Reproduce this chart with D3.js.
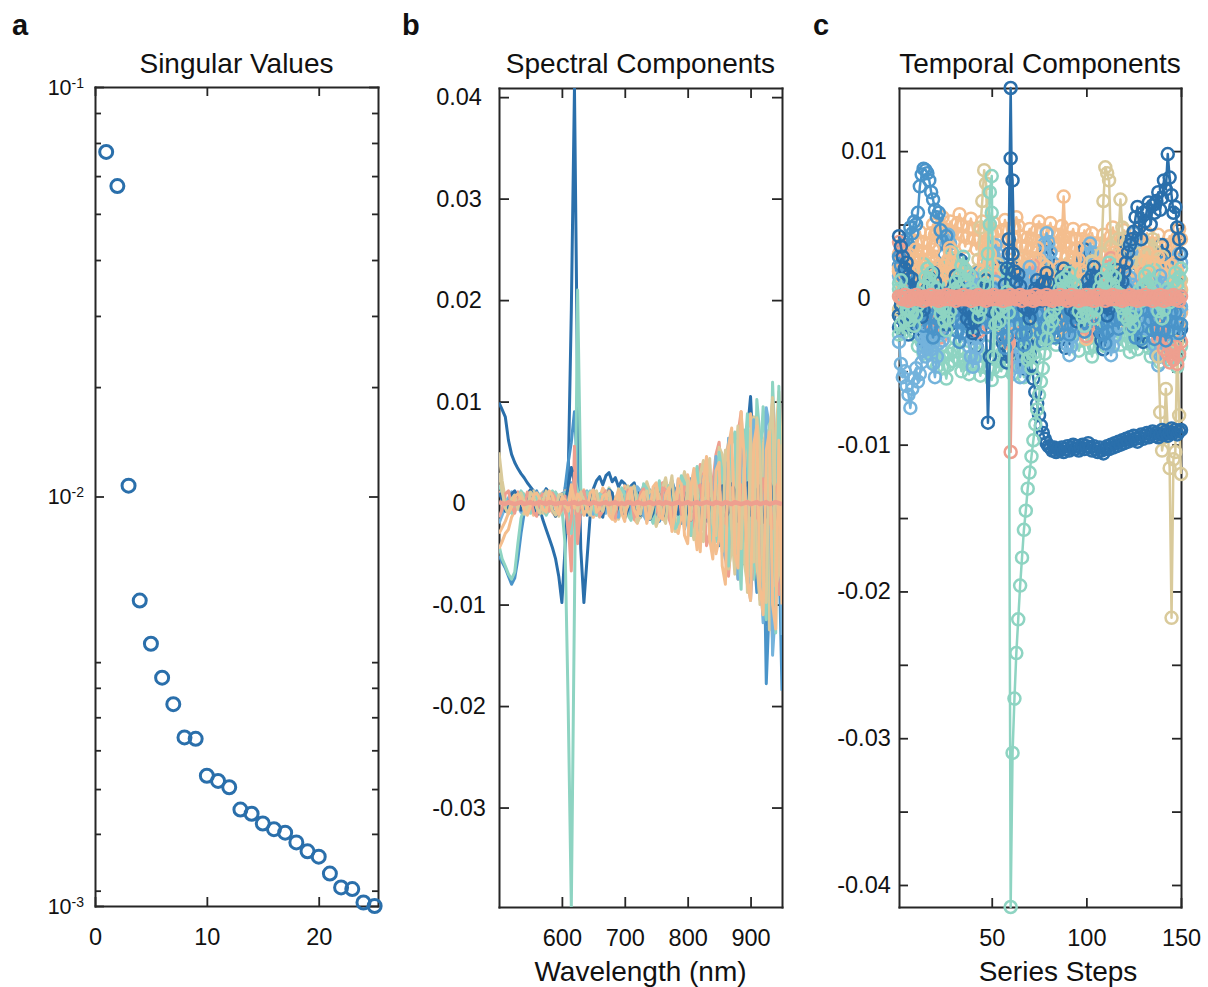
<!DOCTYPE html>
<html>
<head>
<meta charset="utf-8">
<script src="https://cdn.jsdelivr.net/npm/d3@7"></script>
<style>
  body { margin: 0; background: #fff; }
</style>
</head>
<body>
<script>
// ---------- panel a: singular values ----------
const compIndex = [1,2,3,4,5,6,7,8,9,10,11,12,13,14,15,16,17,18,19,20,21,22,23,24,25];
const singularValues = [0.0694, 0.0573, 0.01063, 0.00557, 0.00437, 0.00361, 0.00311, 0.00258, 0.00256,
  0.00208, 0.00202, 0.00195, 0.00172, 0.00168, 0.00159, 0.00154, 0.00151, 0.00143, 0.00136, 0.00132,
  0.00120, 0.00111, 0.00110, 0.00102, 0.00100];
const svXTicks = [0, 10, 20];
const svYMajor = [0.001, 0.01, 0.1];
const svYMinor = [0.0864, 0.0730, 0.0606, 0.0490, 0.0378, 0.0276, 0.0185,
  0.00394, 0.00341, 0.00289, 0.00240, 0.00193, 0.00150, 0.00109];

// ---------- panel b: spectral components (values in units of 1e-4) ----------
const wavelengths = [500,505,510,515,520,525,530,535,540,545,
  550,555,560,565,570,575,580,585,590,595,
  600,605,610,615,620,625,630,635,640,645,
  650,655,660,665,670,675,680,685,690,695,
  700,705,710,715,720,725,730,735,740,745,
  750,755,760,765,770,775,780,785,790,795,
  800,805,810,815,820,825,830,835,840,845,
  850,855,860,865,870,875,880,885,890,895,
  900,905,910,915,920,925,930,935,940,945,
  950];
const specA = [99, 92, 85, 62, 48, 40, 34, 29, 25, 20,
  16, 12, 4, -6, -17, -26, -35, -44, -55, -72,
  -98, -45, 25, 190, 409, 110, -45, -98, -55, -12,
  14, 22, 26, 18, 27, 30, 21, 25, 16, 22,
  19, 12, 17, 20, 8, 12, 4, 9, -3, 6,
  10, 3, -8, -2, 5, 10, 14, 4, -12, -5,
  -4, 14, 6, -10, 20, 12, -18, 25, 8, -22,
  -30, 30, 38, -15, -40, 22, 50, -28, -60, 70,
  105, 40, -70, -30, 60, -120, -40, 30, -90, 20,
  -60];
const specB = [-52, -58, -64, -72, -80, -74, -55, -30, -10, 2,
  8, 5, 12, 3, -4, -9, -2, 6, 10, 4,
  -3, 15, 40, 60, 90, 30, -12, -6, 3, 11,
  7, -2, -10, -6, 4, 12, 9, -3, -12, -8,
  1, 10, 16, 8, -5, -14, -9, 3, 13, 6,
  -7, -18, -11, 4, 15, 22, 12, -6, -20, -9,
  8, 24, 14, -10, -28, -16, 12, 30, 18, -22,
  -42, -25, 10, 36, 20, -30, -58, -40, 15, 52,
  30, -45, -88, -60, 20, -178, -95, 25, 60, -40,
  -185];
const specC = [-42, -55, -62, -70, -75, -68, -40, -15, -5, 4,
  9, 3, -5, -11, -6, 2, 8, 12, 5, -3,
  -5, -40, -200, -398, -100, 210, 15, -4, 7, 12,
  5, -6, -13, -4, 8, 14, 6, -5, -2, 10,
  16, 7, -8, -15, -6, 9, 17, 11, -4, -12,
  -19, -8, 10, 20, 13, -5, -17, -24, -9, 12,
  26, 15, -12, -30, -18, 9, 34, 22, -15, -38,
  -20, 18, 48, 30, -25, -55, -32, 40, 72, 38,
  -30, -75, -50, 35, 95, 50, -60, 119, 40, -90,
  75];
const specD = [-45, -38, -30, -26, -14, -8, -2, 5, 9, 3,
  -6, -12, -4, 7, 11, 4, -3, -9, -13, -5,
  6, 12, 5, -4, -10, -3, 8, 13, 6, -7,
  -14, -8, 5, 15, 10, -2, -13, -18, -7, 9,
  17, 12, -4, -16, -20, -8, 11, 19, 9, -10,
  -22, -15, 6, 21, 14, -8, -25, -30, -12, 15,
  28, 12, -20, -46, -30, 5, 32, 20, -25, -50,
  -35, 10, 45, 60, 25, -40, -75, -50, 30, 72,
  88, 30, -60, -95, -45, 40, -85, -135, -70, 45,
  -70];
const specE = [12, 6, -3, -10, -4, 8, 11, 3, -7, -9,
  -2, 6, 9, 1, -8, -11, -3, 7, 10, 2,
  5, -8, -20, -67, 56, -40, -6, 5, 9, 2,
  -8, -12, -3, 8, 12, 4, -8, -13, -5, 7,
  14, 9, -6, -16, -10, 5, 17, 10, -12, -19,
  -6, 11, 20, 8, -15, -24, -10, 16, 26, 6,
  -18, -32, -12, 24, 38, 15, -42, -30, 20, 48,
  60, 20, -55, -72, -30, 35, 68, 90, 25, -62,
  -95, -40, 70, 40, -110, -80, 60, 100, 30, -90,
  -75];
const specF = [50, 22, 4, -6, 3, 10, 6, -4, -11, -5,
  7, 12, 4, -6, -10, -2, 9, 6, -4, -13,
  -7, 8, 14, 5, -3, -9, 5, 11, 7, -2,
  10, -5, -14, -8, 6, 15, 9, -3, -16, -7,
  11, 17, 6, -9, -19, -13, 8, 21, 11, -5,
  -23, -9, 15, 25, 7, -14, -28, -12, 18, 31,
  10, -20, -36, -15, 28, 42, 8, -30, -48, -5,
  55, 48, -22, -65, -45, 36, 76, 20, -58, -80,
  62, 85, -40, -100, 58, 72, -125, -60, 64, 110,
  45];
const specG = [-20, -12, -4, 5, 11, 6, -3, -9, -2, 8,
  13, 4, -8, -5, 10, 14, 3, -7, -12, -3,
  9, 11, -14, 20, 10, -16, -5, 8, 12, -7,
  -11, 6, 9, -4, -10, 13, 7, -7, -14, 5,
  11, 8, -15, -6, 16, 12, -12, -18, 7, 10,
  19, -10, -16, 13, 9, -21, -13, 23, 17, -26,
  -12, 12, 32, -18, -28, 26, 30, -24, -38, 46,
  38, -42, -55, 64, 34, -34, -75, 50, 58, -48,
  -96, 82, 66, -60, -118, 94, 76, -150, -100, 92,
  -130];
const specH = [18, 10, 4, -7, -10, -3, 5, 12, 8, -6,
  -10, -4, 7, 9, -2, -12, -6, 6, 11, 3,
  -7, 10, -12, -30, 25, 12, -9, -3, 11, 6,
  -5, -12, 9, 7, -3, 14, 10, -8, -6, 15,
  8, -12, -17, 12, 8, -7, 19, 14, -10, -20,
  9, 22, -15, -8, 17, 12, -25, -19, 27, 20,
  -14, -32, 24, 36, -18, -26, 14, 38, -42, -20,
  50, 30, -45, -62, 58, 70, -30, -85, 44, 88,
  -72, -55, 102, 65, -90, -115, 78, 60, -128, 115,
  -80];
const specJ = [10, 4, -8, -5, 9, 12, 4, -7, -3, 8,
  13, 5, -12, -9, 3, 14, 10, -6, -13, -4,
  9, 2, 15, 35, 20, -10, -4, 8, -12, -5,
  12, 6, -9, -14, 3, 13, 10, -11, -3, 7,
  -15, -6, 9, 14, -8, -12, 11, 6, -16, -10,
  15, 8, -13, -14, 12, 16, -9, -11, 13, 10,
  -8, -17, 12, 9, -16, -10, 14, 18, -13, -6,
  11, 17, -15, -9, 19, 12, -18, -14, 16, 20,
  -11, -15, 13, 17, -19, -12, 21, 14, -16, -20,
  18];
const specK = [-14, -6, 9, 12, -3, -10, 5, 8, -7, 11,
  4, -9, -13, 6, 9, -2, -8, 10, 4, -11,
  -6, 7, -30, -15, 30, -25, 8, 12, -3, -9,
  7, 10, -13, -8, 4, 12, -5, -15, 9, 6,
  -10, 13, 7, -14, -9, 10, 14, -12, -15, 11,
  7, -13, 15, 12, -10, -16, 8, 14, -11, 16,
  13, -17, -9, 15, 18, -12, -14, 19, 10, -16,
  17, -13, -20, 11, 15, -21, 12, 18, -14, -22,
  19, 23, -13, -20, 24, 15, -18, -25, 14, 21,
  -12];
const specL = [30, 12, -5, -11, 4, 8, -6, 10, 2, -9,
  11, 7, -5, -10, 3, 12, 5, -7, -12, 8,
  9, -3, -6, 15, 4, -8, 11, 3, -7, -12,
  9, 12, -4, -8, 5, 11, -13, -6, 14, 8,
  -9, -3, 13, 17, -5, -11, 7, 12, -15, -4,
  18, 6, -13, -20, 10, 27, -12, 15, 9, -24,
  22, -16, 30, 14, -28, -38, 26, 44, -20, -32,
  18, -48, 52, 40, -26, -70, 62, -45, 35, -88,
  72, -58, 84, 50, -76, -98, 66, 104, -82, -70,
  58];
const specM = [-30, -24, -18, -10, -4, 6, 9, 5, -7, -12,
  -3, 8, 10, 4, -6, -9, 12, 7, -5, -11,
  6, 3, -8, 18, -5, 9, 4, -12, -6, 10,
  13, -9, -5, 7, 9, -12, -16, 4, 12, -10,
  -18, 8, 15, -7, -13, 5, 11, -20, -6, 16,
  20, -12, -16, 8, 15, -28, -10, 24, 18, -32,
  -40, 16, 34, -26, -48, 22, 46, -36, -55, 32,
  40, -62, -80, 56, 74, -50, -64, 90, 44, -78,
  -96, 58, 76, -82, -110, 52, 70, -100, -124, 62,
  -100];
const specN = [1, 0, -1, 1, 0, -1, 0, 1, -1, 0,
  1, -1, 0, 1, 0, -1, 1, 0, -1, 0,
  0, 1, -1, 0, 1, -1, 0, 1, 0, -1,
  1, 0, -1, 0, 1, -1, 0, 1, -1, 0,
  -1, 1, 0, -1, 1, 0, -1, 0, 1, -1,
  0, 1, -1, 1, 0, -1, 0, 1, -1, 0,
  1, -1, 0, 1, -1, 0, 1, 0, -1, 1,
  0, -1, 1, 0, -1, 1, 0, -1, 0, 1,
  -1, 0, 1, -1, 0, 1, -1, 0, 1, 0,
  -1];
const specXTicks = [600, 700, 800, 900];
const specYTicks = [-300, -200, -100, 0, 100, 200, 300, 400];

// ---------- panel c: temporal components (values in units of 1e-4) ----------
const steps = [1,2,3,4,5,6,7,8,9,10,11,12,13,14,15,16,17,18,19,20,21,22,23,24,25,26,27,28,29,30,
  31,32,33,34,35,36,37,38,39,40,41,42,43,44,45,46,47,48,49,50,51,52,53,54,55,56,57,58,59,60,
  61,62,63,64,65,66,67,68,69,70,71,72,73,74,75,76,77,78,79,80,81,82,83,84,85,86,87,88,89,90,
  91,92,93,94,95,96,97,98,99,100,101,102,103,104,105,106,107,108,109,110,111,112,113,114,115,116,117,118,119,120,
  121,122,123,124,125,126,127,128,129,130,131,132,133,134,135,136,137,138,139,140,141,142,143,144,145,146,147,148,149,150];
const tempC1 = [-12, -5, 3, 10, 6, 14, 20, 12, 5, -4, -10, -2, 8, 15, 9,
  2, -6, -14, -8, 0, 7, 13, 18, 10, 4, -3, -11, -18, -9, -1,
  6, 12, 19, 25, 16, 8, 1, -7, -15, -22, -13, -5, 3, 11, 17,
  10, -20, -85, -40, -12, -4, 5, 13, 20, 14, 6, -2, 9, 30, 95,
  80, 20, 5, -6, -14, -8, -20, -26, -32, -38, -46, -55, -64, -72, -80,
  -87, -92, -96, -99, -101, -102, -104, -102, -105, -103, -104, -102, -105, -103, -101,
  -104, -102, -100, -103, -101, -104, -102, -100, -103, -101, -99, -102, -104, -101, -103,
  -105, -102, -104, -106, -103, -101, -103, -100, -102, -99, -101, -98, -100, -97, -99,
  -96, -98, -95, -97, -94, -96, -98, -95, -93, -96, -94, -92, -95, -93, -91,
  -94, -92, -95, -93, -90, -93, -91, -94, -92, -89, -92, -90, -93, -91, -90];
const tempC2 = [22, 30, 35, 28, 40, 36, 48, 44, 52, 50, 58, 76, 84, 88, 87,
  85, 80, 72, 67, 60, 55, 58, 46, 38, 30, 42, 25, 33, 18, 26,
  18, 22, 11, 14, 5, -3, 2, -9, -4, 6, 12, 9, 17, 10, 3,
  -6, -2, -13, -8, -17, -11, -4, 5, 1, 10, 15, 8, 12, 4, -5,
  -1, -10, -7, -16, -22, -14, -19, -9, -3, 6, 2, 11, 19, 13, 7,
  14, 9, 0, -5, 3, -4, -12, -8, -18, -25, -19, -11, -15, -6, 2,
  8, 3, 12, 20, 16, 25, 18, 10, 14, 5, -2, 4, -7, -3, -12,
  -20, -14, -24, -17, -9, -13, -4, 3, -1, 8, 15, 11, 21, 14, 6,
  10, 1, -6, -2, -11, -18, -13, -22, -28, -20, -12, -16, -7, 0, 5,
  -3, 4, 13, 9, 18, 24, 17, 22, 12, 7, 14, 3, -5, 2, -8];
const tempC3 = [6, 12, 4, -3, 2, -8, -15, -10, -19, -12, -5, 3, -2, 8, 14,
  20, 13, 17, 8, 1, 6, -4, -11, -7, -16, -22, -14, -9, -1, 5,
  11, 7, 15, 22, 28, 19, 12, 16, 6, -2, 3, -6, -13, -8, 0,
  9, 15, 30, 72, 83, -40, -18, -10, -16, -7, 1, -5, 4, -10, -415,
  -310, -273, -242, -219, -196, -177, -158, -145, -130, -119, -108, -97, -86, -76, -66,
  -57, -48, -38, -28, -20, -12, -16, -8, 1, -4, 6, 12, 5, 14, 9,
  17, 11, 3, 8, -1, -9, -4, -13, -19, -11, -3, 2, -6, -14, -8,
  0, 7, 13, 6, 10, 19, 24, 16, 9, 14, 4, -3, 2, -7, -12,
  -5, -15, -21, -13, -18, -9, -1, 5, -2, 8, 15, 10, 18, 12, 3,
  7, -2, -9, -4, -14, -8, 1, 6, -3, 4, 11, 17, 9, 14, 20];
const tempC4 = [18, 25, 31, 22, 27, 16, 9, 14, 5, -3, 4, 11, 20, 15, 24,
  30, 37, 28, 33, 24, 17, 21, 12, 6, 13, 19, 26, 34, 27, 20,
  12, 18, 8, 1, 7, -4, -11, -6, -15, -9, 0, 6, 14, 9, 17,
  23, 29, 21, 13, 18, 10, 3, -5, -12, -20, -27, -18, -24, -31, -22,
  -14, -7, -12, -3, 5, -2, 8, 15, 9, 17, 24, 19, 27, 34, 26,
  18, 11, 16, 7, 13, 4, -3, 2, -8, 5, 21, 40, 69, 38, 22,
  15, 9, 2, -6, -1, -10, -17, -12, -21, -28, -20, -13, -7, -15, -9,
  -2, 6, 1, 10, 17, 12, 20, 28, 22, 31, 25, 16, 11, 19, 13,
  5, 12, 18, 10, 3, -4, -11, -6, -14, -8, -1, 7, 2, 11, 17,
  24, 19, 28, 21, 14, 20, 12, 5, -3, 4, -6, -13, -9, -17, -10];
const tempC5 = [38, 33, 26, 30, 22, 15, 19, 10, 4, 9, -1, -7, -3, -12, -8,
  -16, -10, -19, -25, -18, -12, -20, -27, -21, -14, -6, -11, -3, 4, -2,
  7, 13, 8, 16, 11, 3, -4, 1, -7, -14, -9, -17, -23, -16, -10,
  -3, 5, 12, 6, 14, 20, 15, 8, 1, -6, -2, -9, -15, -30, -105,
  -22, -14, -19, -11, -4, 3, -3, 6, 13, 7, 15, 22, 17, 10, 4,
  -2, 5, -4, -11, -6, -14, -21, -15, -8, -1, 6, 1, 9, 16, 10,
  3, 8, -1, -8, -3, -12, -18, -13, -20, -26, -19, -12, -5, 2, -4,
  5, 11, 18, 13, 7, 14, 21, 27, 19, 12, 6, -2, 4, -5, -12,
  -7, -14, -9, -2, -8, 1, 8, 3, 10, 17, 12, 5, -3, -10, -18,
  -13, -22, -28, -20, -26, -35, -29, -38, -44, -36, -42, -33, -45, -38, -30];
const tempC6 = [-8, -2, 5, 1, 9, 14, 8, 3, -4, 2, -5, -12, -7, 0, 6,
  12, 7, 15, 10, 3, -3, -9, -4, -13, -18, -11, -5, 1, 8, 14,
  9, 17, 12, 4, -2, 3, -6, -11, -4, 5, 11, 18, 26, 48, 66,
  87, 78, 30, 12, 4, -5, 1, -8, -14, -7, -12, -3, 5, 1, 8,
  14, 9, 2, -6, -1, -9, -15, -10, -18, -24, -16, -9, -13, -5, 2,
  8, 3, 11, 17, 10, 4, -3, 2, -7, -13, -6, 0, 7, 13, 19,
  12, 6, -1, 4, -5, -11, -6, 2, 9, 4, 12, 18, 24, 16, 10,
  8, 15, 30, 66, 89, 85, 80, 35, 14, 6, 20, 40, 67, 48, 15,
  7, -2, 3, -6, -13, -8, -1, 6, 1, 9, 16, 23, 30, 35, 40,
  32, 10, -40, -78, -104, -95, -62, -90, -116, -218, -110, -105, -30, -80, -120];
const tempC7 = [-30, -45, -54, -50, -60, -66, -75, -62, -55, -48, -57, -52, -44, -36, -28,
  -22, -30, -35, -45, -54, -40, -31, -24, -29, -18, -11, -16, -8, -13, -4,
  3, -2, -9, -15, -8, -1, 6, 12, 7, 14, 9, 2, -5, -11, -6,
  -14, -20, -13, -7, -2, 5, 11, 6, -1, -8, -3, -10, -16, -22, -15,
  -9, -3, 4, 10, 3, -4, 2, 9, 15, 21, 14, 8, 1, -6, -12,
  -7, -15, -21, -28, -20, -13, -17, -9, -2, 5, 0, 7, 13, 6, -1,
  4, -3, -10, -5, -13, -19, -12, -6, 1, -4, 3, 10, 16, 11, 4,
  -2, 5, -1, -8, -14, -9, -17, -23, -16, -10, -4, 2, 8, 3, -5,
  1, 7, 14, 9, 2, -4, 3, -5, -12, -7, -15, -21, -14, -8, -2,
  6, 1, 8, 15, 10, 3, -3, -10, -5, -13, -19, -24, -17, -11, -6];
const tempC8 = [42, 35, 28, 20, 24, 15, 8, 13, 4, -3, 2, -6, -13, -8, -1,
  6, 13, 9, 17, 11, 4, -2, 3, -5, -12, -18, -11, -4, 2, 8,
  15, 10, 3, -4, 1, -7, -14, -9, -17, -24, -16, -10, -3, 4, 0,
  7, 12, 5, -2, -9, -3, -10, -17, -11, -4, 2, 9, 20, 40, 143,
  30, 18, 11, 16, 8, 1, -6, -1, -8, -14, -7, 0, 6, 12, 5,
  -2, 4, 11, 17, 10, 3, -4, -11, -5, 2, 8, 14, 20, 13, 6,
  -1, -8, -3, -10, -16, -9, -2, 4, -3, 5, 12, 7, 15, 21, 14,
  8, 1, -5, 2, -6, -12, -7, 0, 6, 13, 19, 12, 5, 11, 18,
  24, 31, 36, 40, 45, 55, 62, 48, 40, 58, 52, 60, 65, 50, 63,
  58, 66, 72, 60, 68, 80, 74, 98, 82, 70, 58, 62, 48, 40, 30];
const tempC9 = [-25, -18, -24, -15, -8, -13, -4, 3, -2, 7, 14, 9, 17, 23, 16,
  10, 4, -3, 2, -6, -12, -7, 0, 6, 13, 8, 16, 24, 31, 22,
  15, 8, 13, 4, -3, -10, -5, -13, -20, -14, -6, 1, -4, 5, 12,
  18, 11, 24, 50, 58, -10, -3, 5, -2, 6, 13, 19, 12, 4, -4,
  3, -5, -12, -18, -11, -20, -27, -35, -42, -40, -48, -38, -30, -22, -15,
  -8, -1, 6, 1, 9, 16, 11, 3, -4, 2, -6, -13, -7, 1, 8,
  14, 20, 13, 6, 11, 2, -5, -12, -6, 1, 7, 13, 18, 11, 4,
  -3, 3, -5, -11, -17, -10, -3, 4, 10, 16, 22, 15, 8, 12, 5,
  -2, 5, 11, 6, -1, -8, -14, -9, -16, -22, -15, -7, 0, 6, 13,
  19, 12, 5, -2, 4, -4, -11, -6, 2, 9, 15, 10, 17, 12, 5];
const tempC10 = [20, 14, 8, 15, 23, 30, 24, 18, 26, 33, 28, 20, 13, 19, 11,
  5, -2, 4, -4, -11, -6, 2, 9, 16, 22, 17, 25, 31, 24, 17,
  10, 3, 9, 16, 21, 14, 7, 12, 4, -3, -9, -4, 4, 11, 18,
  26, 33, 39, 30, 22, 15, 9, 2, -6, -13, -8, -15, -22, -16, -9,
  -2, 5, 11, 18, 25, 20, 28, 35, 27, 20, 13, 6, 10, 2, -5,
  1, 8, 14, 21, 16, 9, 3, -4, -11, -6, -14, -20, -13, -7, 0,
  6, 13, 20, 27, 34, 26, 19, 12, 17, 9, 2, -4, 3, 10, 16,
  23, 17, 10, 4, -3, 2, -5, -12, -7, 0, 8, 15, 22, 29, 21,
  14, 7, 12, 5, -1, -8, -3, 4, 11, 18, 25, 31, 24, 17, 10,
  3, 9, 2, -5, -12, -6, 1, 8, 15, 22, 16, 24, 18, 11, 6];
const tempC11 = [28, 22, 15, 9, 16, 10, 3, -4, -11, -6, 2, -5, -12, -19, -13,
  -6, -12, -20, -27, -21, -14, -8, -15, -22, -16, -9, -3, 4, -2, -9,
  -16, -23, -30, -24, -17, -10, -4, 3, -3, -10, -17, -12, -5, 1, -6,
  -13, -20, -14, -7, 0, 6, -1, -8, -15, -21, -27, -34, -26, -19, -12,
  -5, 2, -4, -11, -18, -25, -32, -24, -17, -10, -3, 3, -4, -11, -18,
  -24, -30, -22, -15, -8, -14, -21, -27, -20, -13, -6, 1, -5, -12, -18,
  -25, -19, -12, -5, 2, -3, -9, -16, -23, -17, -10, -4, 3, 9, 2,
  -5, -12, -18, -25, -31, -23, -16, -9, -2, -8, -15, -21, -14, -7, 0,
  6, -1, -7, -14, -20, -27, -21, -14, -8, -1, 5, -2, -9, -15, -22,
  -28, -21, -14, -8, -15, -22, -29, -23, -16, -9, -3, -10, -17, -24, -18];
const tempC12 = [-12, -6, 1, 7, 14, 8, 2, -5, -11, -4, 3, 10, 5, -2, -9,
  -15, -8, -1, 6, 12, 19, 13, 7, 0, -7, -13, -6, 1, 8, 14,
  21, 15, 9, 3, -4, -10, -16, -9, -2, 5, 12, 18, 11, 4, -3,
  -10, -17, -11, -4, 3, 10, 17, 23, 16, 9, 2, -5, -12, -6, 1,
  8, 15, 22, 28, 21, 14, 7, 1, -6, -13, -19, -12, -5, 2, 9,
  16, 23, 17, 10, 4, -3, -10, -17, -24, -18, -11, -4, 3, 10, 17,
  24, 18, 11, 5, -2, -9, -16, -10, -3, 4, 11, 18, 25, 19, 12,
  6, -1, -8, -14, -8, -1, 6, 13, 20, 26, 19, 12, 5, -2, -9,
  -16, -10, -3, 4, 11, 17, 24, 30, 23, 16, 9, 2, -5, -12, -6,
  1, 8, 15, 22, 28, 21, 14, 7, 0, -7, -14, -8, -1, 6, 12];
const tempC13 = [1, 0, -1, 2, 0, -2, 1, -1, 0, 2, -1, 1, 0, -2, 1,
  0, -1, 2, 0, -1, 1, -2, 0, 1, -1, 2, 0, -1, 1, 0,
  -2, 1, 0, -1, 2, -1, 0, 1, -2, 0, 1, -1, 2, 0, -1,
  1, -2, 0, 1, -1, 2, 0, -1, 1, 0, -2, 1, 0, -1, 2,
  0, 1, -1, 0, 2, -2, 1, 0, -1, 1, 0, -2, 2, -1, 0,
  1, -1, 0, 2, -1, 0, -2, 1, 0, -1, 2, 0, -1, 1, -2,
  0, 2, -1, 0, 1, -2, 1, 0, -1, 2, -1, 0, 1, -2, 0,
  2, -1, 0, 1, -2, 0, 1, -1, 2, 0, -1, 1, 0, -2, 1,
  -1, 0, 2, -1, 1, 0, -2, 1, -1, 0, 2, -1, 0, 1, -2,
  0, 1, -1, 2, 0, -2, 1, 0, -1, 1, 2, -1, 0, -2, 1];
const tempC14 = [10, 4, -3, -9, -15, -8, -14, -22, -17, -26, -33, -25, -30, -38, -31,
  -24, -29, -36, -44, -39, -47, -41, -34, -40, -48, -55, -46, -38, -43, -35,
  -28, -36, -42, -50, -44, -37, -45, -52, -46, -39, -31, -38, -45, -53, -47,
  -40, -33, -41, -49, -56, -48, -42, -35, -43, -50, -44, -36, -29, -37, -45,
  -52, -46, -38, -31, -39, -47, -54, -48, -41, -34, -27, -33, -40, -32, -25,
  -18, -24, -31, -26, -19, -12, -17, -25, -32, -27, -20, -14, -21, -28, -23,
  -16, -10, -17, -24, -30, -36, -29, -22, -15, -21, -28, -34, -40, -33, -26,
  -19, -13, -20, -27, -33, -26, -19, -12, -6, -13, -20, -26, -32, -25, -18,
  -24, -31, -37, -30, -23, -29, -35, -28, -21, -14, -20, -27, -34, -40, -33,
  -26, -32, -38, -44, -37, -30, -36, -42, -35, -28, -34, -41, -47, -40, -33];
const tempC15 = [30, 36, 28, 21, 27, 34, 40, 33, 26, 32, 39, 45, 38, 31, 24,
  30, 37, 44, 50, 43, 36, 42, 49, 55, 47, 40, 46, 52, 45, 38,
  44, 51, 57, 49, 42, 35, 41, 48, 54, 47, 40, 33, 39, 46, 52,
  45, 38, 31, 37, 44, 51, 45, 38, 32, 39, 46, 53, 47, 40, 34,
  41, 48, 55, 49, 42, 35, 28, 34, 41, 47, 40, 33, 39, 46, 52,
  46, 39, 32, 38, 45, 51, 44, 37, 30, 36, 43, 49, 42, 35, 28,
  34, 41, 47, 40, 33, 27, 33, 40, 46, 39, 32, 38, 44, 37, 30,
  24, 30, 37, 43, 36, 29, 35, 42, 48, 41, 34, 27, 33, 40, 46,
  39, 32, 26, 32, 39, 45, 38, 31, 25, 31, 38, 44, 37, 30, 24,
  30, 37, 43, 36, 29, 23, 29, 36, 42, 35, 28, 34, 41, 47, 40];
const tempC16 = [-20, -14, -7, -12, -18, -25, -19, -12, -5, 2, -4, -10, -17, -23, -30,
  -24, -17, -10, -3, 4, 11, 18, 12, 5, -2, -8, -15, -9, -2, 5,
  12, 19, 26, 20, 13, 6, -1, -7, -14, -20, -27, -33, -26, -19, -12,
  -5, 2, 9, 16, 10, 3, -4, -11, -18, -25, -31, -38, -44, -37, -30,
  -23, -16, -22, -29, -35, -42, -48, -41, -34, -27, -20, -13, -6, 1, 8,
  15, 22, 29, 35, 28, 21, 14, 7, 0, -7, -14, -21, -28, -34, -27,
  -20, -13, -6, 1, 8, 14, 21, 27, 33, 26, 19, 12, 5, -2, -9,
  -16, -23, -29, -35, -28, -21, -14, -7, 0, 7, 14, 20, 26, 32, 38,
  31, 24, 17, 10, 3, -4, -11, -18, -24, -30, -23, -16, -9, -2, 5,
  12, 18, 24, 30, 36, 29, 22, 15, 8, 1, -6, -13, -20, -27, -21];
const tempC17 = [15, 22, 29, 36, 30, 23, 16, 9, 2, -5, -12, -19, -26, -33, -40,
  -34, -27, -20, -13, -6, 1, 8, 15, 22, 29, 36, 43, 37, 30, 23,
  16, 9, 2, -5, -12, -19, -26, -33, -40, -47, -41, -34, -27, -20, -13,
  -6, 1, 8, 15, 22, 29, 36, 30, 23, 16, 9, 2, -5, -12, -19,
  -26, -33, -40, -47, -54, -47, -40, -33, -26, -19, -12, -5, 2, 9, 16,
  23, 30, 37, 44, 38, 31, 24, 17, 10, 3, -4, -11, -18, -25, -32,
  -39, -33, -26, -19, -12, -5, 2, 9, 16, 23, 30, 37, 31, 24, 17,
  10, 3, -4, -11, -18, -25, -32, -39, -33, -26, -19, -12, -5, 2, 9,
  16, 23, 30, 37, 44, 38, 31, 24, 17, 10, 3, -4, -11, -18, -25,
  -32, -39, -46, -40, -33, -26, -19, -12, -5, 2, 9, 16, 23, 30, 24];
const tempXTicks = [50, 100, 150];
const tempYTicks = [-400, -350, -300, -250, -200, -150, -100, -50, 0, 50, 100];

// ---------- drawing ----------
const FONT = '"Liberation Sans", Arial, Helvetica, sans-serif';
const INK = "#262626";
const pal = { dblue: "#2a6fab", mblue: "#4a94c9", lblue: "#74b3dc", teal: "#8ed4c2",
              peach: "#f4be8e", salmon: "#ee9f8f", khaki: "#d9ca9b" };
const fmt4 = d => d === 0 ? "0" : String(d / 10000);

const svg = d3.select("body").append("svg")
  .attr("width", 1208).attr("height", 987)
  .style("font-family", FONT);

function frame(g, x, y, box, o) {
  const bot = g.append("g").attr("transform", `translate(0,${box.b})`)
    .call(d3.axisBottom(x).tickValues(o.xt).tickSizeInner(-o.xlen).tickSizeOuter(0)
      .tickPadding(22).tickFormat(d3.format("d")));
  const top = g.append("g").attr("transform", `translate(0,${box.t})`)
    .call(d3.axisTop(x).tickValues(o.xt).tickSizeInner(-o.xlen).tickSizeOuter(0).tickFormat(""));
  const left = g.append("g").attr("transform", `translate(${box.l},0)`)
    .call(d3.axisLeft(y).tickValues(o.yt).tickSizeInner(-o.ylen).tickSizeOuter(0)
      .tickPadding(0).tickFormat(o.yf || (() => "")));
  const right = g.append("g").attr("transform", `translate(${box.r},0)`)
    .call(d3.axisRight(y).tickValues(o.yt).tickSizeInner(-o.ylen).tickSizeOuter(0).tickFormat(""));
  [bot, top, left, right].forEach(a => {
    a.attr("font-family", FONT).attr("font-size", 23.5);
    a.select(".domain").attr("stroke", INK).attr("stroke-width", 2).attr("stroke-linecap", "square");
    a.selectAll(".tick line").attr("stroke", INK).attr("stroke-width", 1.8);
    a.selectAll("text").attr("fill", "#111");
  });
  left.selectAll("text").attr("text-anchor", "middle").attr("x", -o.ylabDx);
}

function title(x, y, s, size, bold) {
  svg.append("text").attr("x", x).attr("y", y).attr("text-anchor", bold ? "start" : "middle")
    .attr("font-size", size).attr("font-weight", bold ? "bold" : "normal")
    .attr("fill", "#111").text(s);
}

// panel a
const boxA = { l: 95, r: 378, t: 87, b: 906 };
const xA = d3.scaleLinear([0, 25.3], [boxA.l, boxA.r]);
const yA = d3.scaleLog([1e-3, 1e-1], [boxA.b, boxA.t]);
const gA = svg.append("g");
frame(gA, xA, yA, boxA, { xt: svXTicks, yt: svYMajor, xlen: 9, ylen: 9, ylabDx: 0 });
[["axisLeft", boxA.l], ["axisRight", boxA.r]].forEach(([fn, px]) => {
  const m = gA.append("g").attr("transform", `translate(${px},0)`)
    .call(d3[fn](yA).tickValues(svYMinor).tickSizeInner(-6).tickSizeOuter(0).tickFormat(""));
  m.select(".domain").remove();
  m.selectAll(".tick line").attr("stroke", INK).attr("stroke-width", 1.8);
});
svYMajor.forEach(v => {
  const t = gA.append("text").attr("x", 84).attr("y", yA(v)).attr("dy", "0.36em")
    .attr("text-anchor", "end").attr("font-size", 21.5).attr("fill", "#111");
  t.append("tspan").text("10");
  t.append("tspan").attr("font-size", 14).attr("dy", -7).text(Math.round(Math.log10(v)));
});
gA.append("g").selectAll("circle").data(singularValues).join("circle")
  .attr("cx", (d, i) => xA(compIndex[i])).attr("cy", d => yA(d)).attr("r", 6.5)
  .attr("fill", "none").attr("stroke", pal.dblue).attr("stroke-width", 3);
title((boxA.l + boxA.r) / 2, 73, "Singular Values", 28);
title(12, 35, "a", 29, true);

// panel b
const boxB = { l: 499, r: 782, t: 88, b: 907 };
const xB = d3.scaleLinear([500, 950], [boxB.l, boxB.r]);
const yB = d3.scaleLinear([-398, 409], [boxB.b, boxB.t]);
const gB = svg.append("g");
frame(gB, xB, yB, boxB, { xt: specXTicks, yt: specYTicks, xlen: 10, ylen: 10, ylabDx: 40, yf: fmt4 });
svg.append("clipPath").attr("id", "clipB").append("rect")
  .attr("x", boxB.l).attr("y", boxB.t).attr("width", boxB.r - boxB.l).attr("height", boxB.b - boxB.t);
const specSeries = [
  [specA, pal.dblue], [specB, pal.mblue], [specC, pal.teal], [specD, pal.peach],
  [specE, pal.salmon], [specF, pal.khaki], [specG, pal.lblue], [specH, pal.teal],
  [specJ, pal.dblue], [specK, pal.salmon], [specL, pal.khaki], [specM, pal.peach],
  [specN, pal.salmon]
];
const lineB = d3.line().x((d, i) => xB(wavelengths[i])).y(d => yB(d));
gB.append("g").attr("clip-path", "url(#clipB)").selectAll("path").data(specSeries).join("path")
  .attr("d", d => lineB(d[0])).attr("fill", "none").attr("stroke", d => d[1])
  .attr("stroke-width", (d, i) => i === specSeries.length - 1 ? 4.5 : 3)
  .attr("stroke-linejoin", "round");
title((boxB.l + boxB.r) / 2, 73, "Spectral Components", 28);
title((boxB.l + boxB.r) / 2, 981, "Wavelength (nm)", 28);
title(402, 35, "b", 29, true);

// panel c
const boxC = { l: 899, r: 1181, t: 88, b: 907 };
const xC = d3.scaleLinear([1, 150], [boxC.l, boxC.r]);
const yC = d3.scaleLinear([-415, 143], [boxC.b, boxC.t]);
const gC = svg.append("g");
frame(gC, xC, yC, boxC, { xt: tempXTicks, yt: tempYTicks, xlen: 9, ylen: 9, ylabDx: 35,
  yf: d => d % 100 === 0 ? fmt4(d) : "" });
const tempSeries = [
  [tempC14, pal.teal], [tempC15, pal.peach], [tempC16, pal.dblue], [tempC17, pal.lblue],
  [tempC12, pal.khaki], [tempC6, pal.khaki], [tempC1, pal.dblue], [tempC2, pal.mblue],
  [tempC4, pal.peach], [tempC5, pal.salmon], [tempC9, pal.teal], [tempC10, pal.peach],
  [tempC7, pal.lblue], [tempC11, pal.mblue], [tempC8, pal.dblue], [tempC3, pal.teal],
  [tempC13, pal.salmon]
];
const lineC = d3.line().x((d, i) => xC(steps[i])).y(d => yC(d));
tempSeries.forEach(([vals, col]) => {
  const s = gC.append("g");
  s.append("path").attr("d", lineC(vals)).attr("fill", "none").attr("stroke", col)
    .attr("stroke-width", 2.5).attr("stroke-linejoin", "round");
  s.selectAll("circle").data(vals).join("circle")
    .attr("cx", (d, i) => xC(steps[i])).attr("cy", d => yC(d)).attr("r", 6)
    .attr("fill", "none").attr("stroke", col).attr("stroke-width", 2.5);
});
title((boxC.l + boxC.r) / 2, 73, "Temporal Components", 28);
title(1058, 981, "Series Steps", 28);
title(813, 35, "c", 29, true);
</script>
</body>
</html>
